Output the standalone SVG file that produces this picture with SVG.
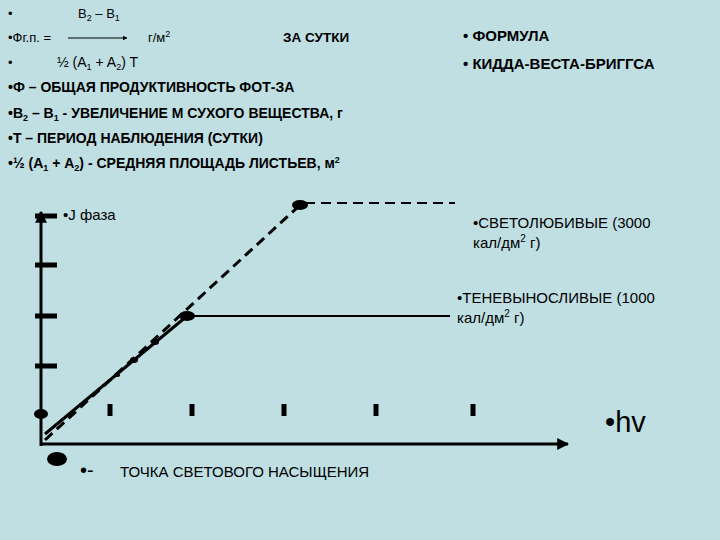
<svg xmlns="http://www.w3.org/2000/svg" width="720" height="540" viewBox="0 0 720 540">
<defs>
<style>
text{font-family:"Liberation Sans",Arial,sans-serif;fill:#000}
.b{font-weight:bold;font-size:14px}
.n{font-size:13px}
.g{font-size:15px}
.ax{stroke:#000;stroke-width:3;fill:none}
.tk{stroke:#000;stroke-width:5}
</style>
<marker id="ar" viewBox="0 0 10 10" refX="9" refY="5" markerWidth="4" markerHeight="4" orient="auto"><path d="M0,0L10,5L0,10z" fill="#000"/></marker>
</defs>
<rect width="720" height="540" fill="#bfdfe3"/>
<g id="formula">
<text x="8" y="18" class="n">•</text>
<text x="78" y="18" class="n">B<tspan font-size="9" dy="3">2</tspan><tspan dy="-3"> – B</tspan><tspan font-size="9" dy="3">1</tspan></text>
<text x="8" y="42" class="n">•Фг.п. =</text>
<line x1="68" y1="38" x2="127" y2="38" stroke="#000" stroke-width="1.2" marker-end="url(#ar)"/>
<text x="148" y="42" class="n">г/м<tspan font-size="9" dy="-5">2</tspan></text>
<text x="283" y="42" style="font-size:13.5px;font-weight:bold">ЗА СУТКИ</text>
<text x="8" y="67" class="n">•</text>
<text x="57" y="67" style="font-size:14px">½ (A<tspan font-size="9" dy="3">1</tspan><tspan dy="-3"> + A</tspan><tspan font-size="9" dy="3">2</tspan><tspan dy="-3">) T</tspan></text>
<text x="463" y="41" style="font-size:15px;font-weight:bold">• ФОРМУЛА</text>
<text x="463" y="69" style="font-size:15px;font-weight:bold">• КИДДА-ВЕСТА-БРИГГСА</text>
<text x="8" y="92" class="b">•Ф – ОБЩАЯ ПРОДУКТИВНОСТЬ ФОТ-ЗА</text>
<text x="8" y="118" class="b">•В<tspan font-size="9" dy="3">2</tspan><tspan dy="-3"> – В</tspan><tspan font-size="9" dy="3">1</tspan><tspan dy="-3">  - УВЕЛИЧЕНИЕ М СУХОГО ВЕЩЕСТВА, г</tspan></text>
<text x="8" y="143" class="b">•Т – ПЕРИОД НАБЛЮДЕНИЯ (СУТКИ)</text>
<text x="8" y="168" class="b">•½ (А<tspan font-size="9" dy="3">1</tspan><tspan dy="-3"> + А</tspan><tspan font-size="9" dy="3">2</tspan><tspan dy="-3">) -  СРЕДНЯЯ ПЛОЩАДЬ ЛИСТЬЕВ, м</tspan><tspan font-size="9" dy="-5">2</tspan></text>
</g>
<g id="axes">
<line x1="41" y1="446" x2="41" y2="212" class="ax" marker-end="url(#ar)"/>
<line x1="40" y1="444" x2="568" y2="444" class="ax" marker-end="url(#ar)"/>
<line x1="35" y1="216" x2="57" y2="216" class="tk"/>
<line x1="35" y1="265" x2="57" y2="265" class="tk"/>
<line x1="35" y1="316" x2="57" y2="316" class="tk"/>
<line x1="35" y1="366" x2="57" y2="366" class="tk"/>
<line x1="110" y1="404" x2="110" y2="416" class="tk" stroke-width="4"/>
<line x1="192" y1="404" x2="192" y2="416" class="tk" stroke-width="4"/>
<line x1="284" y1="404" x2="284" y2="416" class="tk" stroke-width="4"/>
<line x1="376" y1="404" x2="376" y2="416" class="tk" stroke-width="4"/>
<line x1="473" y1="404" x2="473" y2="416" class="tk" stroke-width="4"/>
<ellipse cx="41" cy="414" rx="7" ry="5"/>
<ellipse cx="57" cy="459" rx="10" ry="7"/>
</g>
<g id="connectors">
<line x1="45" y1="440" x2="300" y2="205" stroke="#000" stroke-width="3" stroke-dasharray="10,6"/>
<line x1="305" y1="203" x2="455" y2="203" stroke="#000" stroke-width="2" stroke-dasharray="10,6"/>
<line x1="45" y1="434" x2="187" y2="316" stroke="#000" stroke-width="3"/>
<line x1="187" y1="316" x2="450" y2="316" stroke="#000" stroke-width="2"/>
<ellipse cx="300" cy="205" rx="8" ry="5"/>
<ellipse cx="187" cy="316" rx="8" ry="5"/>
<ellipse cx="155" cy="342" rx="4" ry="3"/>
<ellipse cx="134" cy="360" rx="4" ry="3"/>
<ellipse cx="117" cy="375" rx="3" ry="2"/>
</g>
<g id="labels">
<text x="63" y="220" class="g">•J фаза</text>
<text x="473" y="228" class="g">•СВЕТОЛЮБИВЫЕ (3000</text>
<text x="473" y="248" class="g">кал/дм<tspan font-size="10" dy="-6">2</tspan><tspan dy="6"> г)</tspan></text>
<text x="457" y="303" class="g">•ТЕНЕВЫНОСЛИВЫЕ (1000</text>
<text x="457" y="323" class="g">кал/дм<tspan font-size="10" dy="-6">2</tspan><tspan dy="6"> г)</tspan></text>
<text x="605" y="432" style="font-size:29px">•hv</text>
<text x="80" y="477" style="font-size:20px">•-</text>
<text x="120" y="477" class="g">ТОЧКА СВЕТОВОГО НАСЫЩЕНИЯ</text>
</g>
</svg>
